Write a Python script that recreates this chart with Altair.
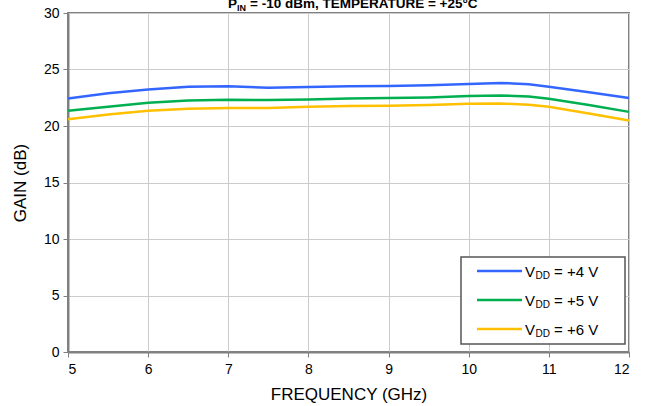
import altair as alt
import pandas as pd

freq = [5, 5.5, 6, 6.5, 7, 7.5, 8, 8.5, 9, 9.5, 10, 10.4, 10.75, 11, 11.5, 12]
gain_4v = [22.44, 22.89, 23.24, 23.48, 23.51, 23.39, 23.45, 23.51, 23.54, 23.60, 23.72, 23.81, 23.70, 23.48, 22.98, 22.47]
gain_5v = [21.34, 21.70, 22.05, 22.26, 22.32, 22.29, 22.35, 22.44, 22.47, 22.53, 22.65, 22.71, 22.62, 22.41, 21.85, 21.25]
gain_6v = [20.60, 21.01, 21.34, 21.52, 21.60, 21.60, 21.70, 21.76, 21.79, 21.85, 21.96, 21.99, 21.87, 21.70, 21.10, 20.48]

series = ["+4 V", "+5 V", "+6 V"]
colors = ["#3366ff", "#00b050", "#ffc000"]
x_ticks = [5, 6, 7, 8, 9, 10, 11, 12]
y_ticks = [0, 5, 10, 15, 20, 25, 30]

rows = []
for name, vals in zip(series, [gain_4v, gain_5v, gain_6v]):
    for f, g in zip(freq, vals):
        rows.append({"freq": f, "gain": g, "series": name})
df = pd.DataFrame(rows)

FONT = "Liberation Sans"
W, H = 561, 339

lines = alt.Chart(df).mark_line(strokeWidth=2.5).encode(
    x=alt.X("freq:Q", scale=alt.Scale(domain=[5, 12], nice=False),
            axis=alt.Axis(values=x_ticks, title="FREQUENCY (GHz)", format="d")),
    y=alt.Y("gain:Q", scale=alt.Scale(domain=[0, 30], nice=False),
            axis=alt.Axis(values=y_ticks, title="GAIN (dB)")),
    color=alt.Color("series:N", scale=alt.Scale(domain=series, range=colors), legend=None),
)

# legend box
box = alt.Chart(pd.DataFrame({"a": [0]})).mark_rect(
    fill="white", stroke="#555555", strokeWidth=1.5
).encode(x=alt.value(393), x2=alt.value(557), y=alt.value(244), y2=alt.value(331))

leg_y = [258, 287, 316]
leg_layers = [box]
for name, col, yy in zip(series, colors, leg_y):
    d = pd.DataFrame({"a": [0]})
    leg_layers.append(alt.Chart(d).mark_rule(color=col, strokeWidth=2.5).encode(
        x=alt.value(409), x2=alt.value(454), y=alt.value(yy)))
    leg_layers.append(alt.Chart(d).mark_text(text="V", align="left", baseline="alphabetic",
                                             font=FONT, fontSize=15, color="black").encode(
        x=alt.value(457), y=alt.value(yy + 5.5)))
    leg_layers.append(alt.Chart(d).mark_text(text="DD", align="left", baseline="alphabetic",
                                             font=FONT, fontSize=10, color="black").encode(
        x=alt.value(467.5), y=alt.value(yy + 8)))
    leg_layers.append(alt.Chart(d).mark_text(text="= " + name, align="left", baseline="alphabetic",
                                             font=FONT, fontSize=15, color="black").encode(
        x=alt.value(486), y=alt.value(yy + 5.5)))

# title (partly cut off at top, as in reference)
td = pd.DataFrame({"a": [0]})
t1 = alt.Chart(td).mark_text(text="P", align="left", baseline="alphabetic", font=FONT,
                             fontSize=13.5, fontWeight="bold", color="black").encode(
    x=alt.value(160), y=alt.value(-5))
t2 = alt.Chart(td).mark_text(text="IN", align="left", baseline="alphabetic", font=FONT,
                             fontSize=9, fontWeight="bold", color="black").encode(
    x=alt.value(169), y=alt.value(-2))
t3 = alt.Chart(td).mark_text(text="= -10 dBm, TEMPERATURE = +25°C", align="left",
                             baseline="alphabetic", font=FONT, fontSize=13.5,
                             fontWeight="bold", color="black").encode(
    x=alt.value(182), y=alt.value(-5))

chart = alt.layer(lines, *leg_layers, t1, t2, t3).properties(
    width=W, height=H,
    autosize=alt.AutoSizeParams(type="none"),
    padding={"left": 68, "top": 13, "right": 21, "bottom": 54},
).configure_view(
    stroke="#808080", strokeWidth=2
).configure_axis(
    labelFont=FONT, titleFont=FONT, labelFontSize=14, titleFontSize=17,
    labelColor="black", titleColor="black", titleFontWeight="normal",
    domainColor="#808080", domainWidth=2, tickColor="#808080", tickSize=5, tickWidth=1,
    gridColor="#cccccc", gridWidth=1,
).configure_axisX(
    labelPadding=5, titlePadding=10
).configure_axisY(
    labelPadding=4, titlePadding=14
)

chart.save("out.html", embed_options={"renderer": "svg", "actions": False})
